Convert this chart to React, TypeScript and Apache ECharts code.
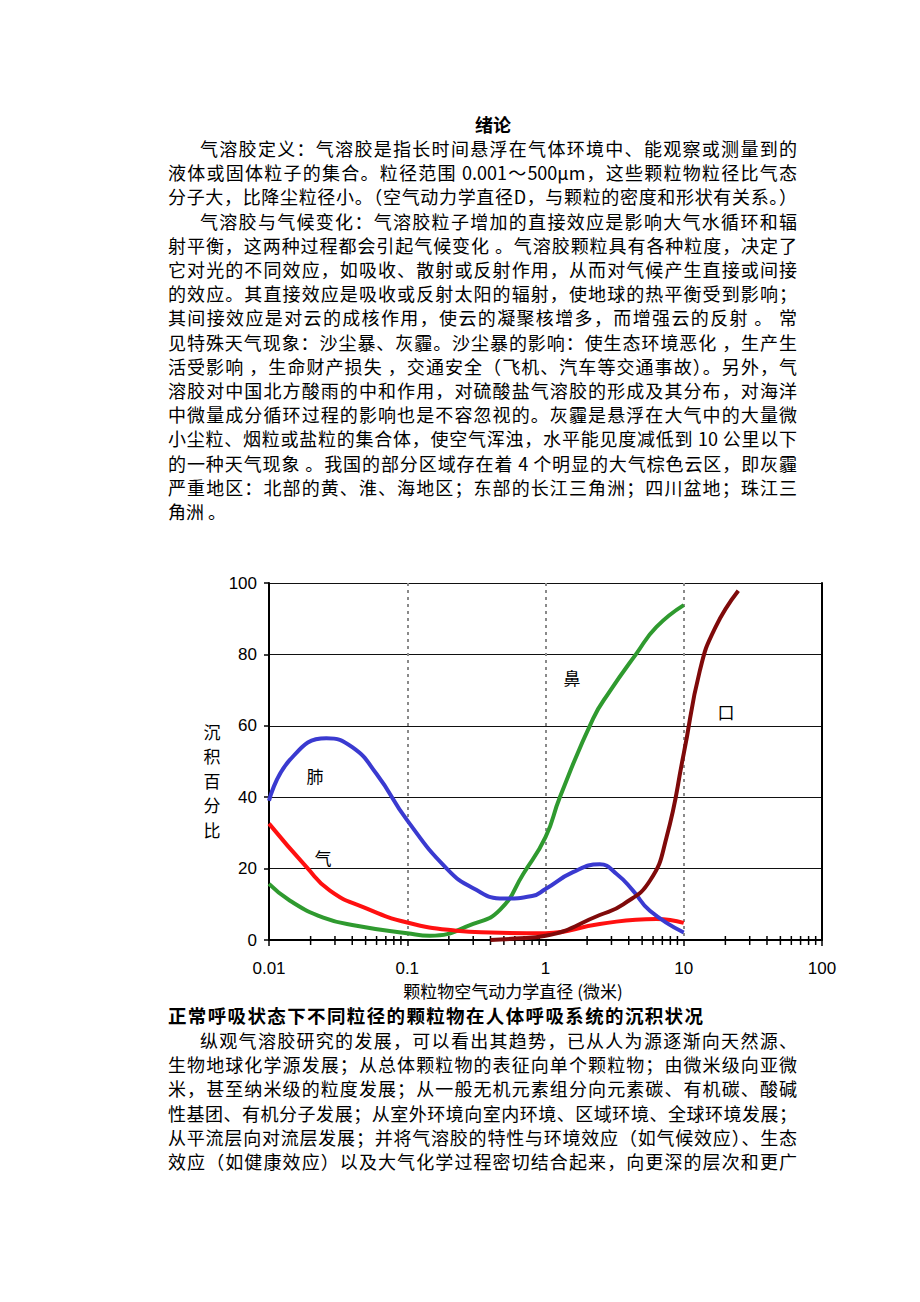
import React, { useEffect, useRef } from "react";
import * as echarts from "echarts";

// ---------- document text ----------
const titleText = "绪论";
const topLines = [
  "气溶胶定义：气溶胶是指长时间悬浮在气体环境中、能观察或测量到的",
  "液体或固体粒子的集合。粒径范围 0.001～500μm，这些颗粒物粒径比气态",
  "分子大，比降尘粒径小。（空气动力学直径D，与颗粒的密度和形状有关系。）",
  "气溶胶与气候变化：气溶胶粒子增加的直接效应是影响大气水循环和辐",
  "射平衡，这两种过程都会引起气候变化 。气溶胶颗粒具有各种粒度，决定了",
  "它对光的不同效应，如吸收、散射或反射作用，从而对气候产生直接或间接",
  "的效应。其直接效应是吸收或反射太阳的辐射，使地球的热平衡受到影响；",
  "其间接效应是对云的成核作用，使云的凝聚核增多，而增强云的反射 。 常",
  "见特殊天气现象：沙尘暴、灰霾。沙尘暴的影响：使生态环境恶化 ，生产生",
  "活受影响 ，生命财产损失 ，交通安全（飞机、汽车等交通事故）。另外，气",
  "溶胶对中国北方酸雨的中和作用，对硫酸盐气溶胶的形成及其分布，对海洋",
  "中微量成分循环过程的影响也是不容忽视的。灰霾是悬浮在大气中的大量微",
  "小尘粒、烟粒或盐粒的集合体，使空气浑浊，水平能见度减低到 10 公里以下",
  "的一种天气现象 。我国的部分区域存在着 4 个明显的大气棕色云区，即灰霾",
  "严重地区：北部的黄、淮、海地区；东部的长江三角洲；四川盆地；珠江三",
  "角洲 。",
];
const topIndented = [0, 3];
const captionText = "正常呼吸状态下不同粒径的颗粒物在人体呼吸系统的沉积状况";
const bottomLines = [
  "纵观气溶胶研究的发展，可以看出其趋势，已从人为源逐渐向天然源、",
  "生物地球化学源发展；从总体颗粒物的表征向单个颗粒物；由微米级向亚微",
  "米，甚至纳米级的粒度发展；从一般无机元素组分向元素碳、有机碳、酸碱",
  "性基团、有机分子发展；从室外环境向室内环境、区域环境、全球环境发展；",
  "从平流层向对流层发展；并将气溶胶的特性与环境效应（如气候效应）、生态",
  "效应（如健康效应）以及大气化学过程密切结合起来，向更深的层次和更广",
];
const bottomIndented = [0];

// ---------- chart data ----------
const xTickLabels = ["0.01", "0.1", "1", "10", "100"];
const yTickLabels = ["0", "20", "40", "60", "80", "100"];
const minorTicks = [
  0.02, 0.03, 0.04, 0.05, 0.06, 0.07, 0.08, 0.09,
  0.2, 0.3, 0.4, 0.5, 0.6, 0.7, 0.8, 0.9,
  2, 3, 4, 5, 6, 7, 8, 9,
  20, 30, 40, 50, 60, 70, 80, 90,
];
const lungData = [
  [0.01, 39], [0.0142, 50.5], [0.026, 56.5], [0.04, 54], [0.06, 46.5],
  [0.1, 33.5], [0.193, 20], [0.3, 14.5], [0.5, 11.6],
  [0.8, 12.3], [1, 14.3], [1.58, 19], [2.47, 21.2], [3.27, 18.5], [4.28, 13.9],
  [5.69, 8.2], [10, 2.1],
];
const tracheaData = [
  [0.01, 32.6], [0.0187, 20.4], [0.0276, 13.8], [0.048, 9.2], [0.1, 4.9],
  [0.227, 2.6], [0.4, 2.1], [1, 1.9], [2.47, 4.5], [6.35, 5.9], [10, 4.8],
];
const noseData = [
  [0.01, 15.7], [0.0142, 11], [0.0247, 6.3], [0.043, 4], [0.1, 1.9],
  [0.146, 1.2], [0.3, 4.5], [0.47, 8.5], [0.69, 18.5], [1, 28.8],
  [1.27, 40], [2.21, 62], [2.9, 69.5], [4.56, 80.3], [6.35, 87.7], [10, 93.8],
];
const mouthData = [
  [0.4, 0], [0.6, 0.4], [1, 1.2], [2.47, 7], [3.65, 10], [5.69, 16.6],
  [7.51, 28.8], [10, 52.2], [13.1, 75.6], [16.8, 87.3], [24.8, 97.8],
];
const seriesNames = ["肺", "气", "鼻", "口"];
const yTitle = "沉积百分比";
const xTitle = "颗粒物空气动力学直径 (微米)";

const CJK = '"Noto Sans CJK SC", sans-serif';
const LAT = '"Liberation Sans", Arial, sans-serif';
const LINE_H = 24.2;
const CHART_TOP = 540;

function TextLine(props: { text: string; cy: number; left: number; justify: boolean; bold?: boolean; width?: number; size?: number }) {
  const { text, cy, left, justify, bold, width, size } = props;
  return (
    <div
      style={{
        position: "absolute",
        left,
        top: cy - 12,
        width: width ?? 797 - left,
        height: 24,
        lineHeight: "24px",
        fontSize: size ?? 18,
        fontFamily: CJK,
        fontWeight: bold ? 700 : 400,
        color: "#000",
        textAlign: justify ? "justify" : "left",
        textAlignLast: justify ? "justify" : "left",
        whiteSpace: "nowrap",
        overflow: "visible",
      } as any}
    >
      {text}
    </div>
  );
}

export default function App() {
  const ref = useRef<HTMLDivElement>(null);

  useEffect(() => {
    if (!ref.current) return;
    const chart = echarts.init(ref.current, null, { renderer: "svg" });
    const gridLeft = 269;
    const gridTop = 583 - CHART_TOP;
    const gridW = 553;
    const gridH = 357;
    const lineSeries = (name: string, data: number[][], color: string) => ({
      name,
      type: "line",
      data,
      smooth: 0.5,
      showSymbol: false,
      symbol: "none",
      lineStyle: { color, width: 4 },
      z: 5,
    });
    chart.setOption({
      animation: false,
      backgroundColor: "transparent",
      grid: { left: gridLeft, top: gridTop, width: gridW, height: gridH },
      xAxis: {
        type: "log",
        logBase: 10,
        min: 0.01,
        max: 100,
        axisLine: { show: true, onZero: false, lineStyle: { color: "#000", width: 2 } },
        axisTick: { show: true, length: 6, lineStyle: { color: "#000", width: 1.5 } },
        axisLabel: {
          color: "#000",
          fontSize: 17,
          fontFamily: LAT,
          margin: 20,
          formatter: (v: number) => {
            const idx = Math.round(Math.log10(v)) + 2;
            return xTickLabels[idx] ?? String(v);
          },
        },
        splitLine: { show: true, lineStyle: { color: "#8a8a8a", width: 2, type: [3, 4] } },
      },
      yAxis: [
        {
          type: "value",
          min: 0,
          max: 100,
          interval: 20,
          axisLine: { show: true, lineStyle: { color: "#000", width: 2 } },
          axisTick: { show: true, length: 5, lineStyle: { color: "#000", width: 1.5 } },
          axisLabel: {
            color: "#000",
            fontSize: 17,
            fontFamily: LAT,
            margin: 12,
            formatter: (v: number) => yTickLabels[Math.round(v / 20)] ?? String(v),
          },
          splitLine: { show: true, lineStyle: { color: "#111", width: 1 } },
        },
        {
          type: "value",
          min: 0,
          max: 100,
          interval: 20,
          position: "right",
          axisLine: { show: true, lineStyle: { color: "#000", width: 2 } },
          axisTick: { show: false },
          axisLabel: { show: false },
          splitLine: { show: false },
        },
      ],
      series: [
        lineSeries(seriesNames[2], noseData, "#2f9a2f"),
        lineSeries(seriesNames[1], tracheaData, "#ff1010"),
        lineSeries(seriesNames[0], lungData, "#3a3ad0"),
        lineSeries(seriesNames[3], mouthData, "#7f0a0a"),
        {
          type: "custom",
          data: minorTicks.map((v) => [v, 0]),
          encode: { x: 0, y: 1 },
          silent: true,
          z: 3,
          renderItem: (params: any, api: any) => {
            const p = api.coord([api.value(0), 0]);
            return {
              type: "line",
              shape: { x1: p[0], y1: p[1] - 4, x2: p[0], y2: p[1] + 5 },
              style: { stroke: "#000", lineWidth: 1.5 },
            };
          },
        },
      ],
      graphic: [
        {
          type: "text",
          x: 212,
          y: 731 - CHART_TOP - 12,
          style: {
            text: yTitle.split("").join("\n"),
            font: `17px ${CJK}`,
            lineHeight: 24.5,
            fill: "#000",
            textAlign: "center",
            textVerticalAlign: "top",
          },
        },
        { type: "text", x: 315, y: 775 - CHART_TOP, style: { text: seriesNames[0], font: `17px ${CJK}`, fill: "#000", textAlign: "center", textVerticalAlign: "middle" } },
        { type: "text", x: 323, y: 857 - CHART_TOP, style: { text: seriesNames[1], font: `17px ${CJK}`, fill: "#000", textAlign: "center", textVerticalAlign: "middle" } },
        { type: "text", x: 572, y: 677 - CHART_TOP, style: { text: seriesNames[2], font: `17px ${CJK}`, fill: "#000", textAlign: "center", textVerticalAlign: "middle" } },
        { type: "text", x: 726, y: 711 - CHART_TOP, style: { text: seriesNames[3], font: `17px ${CJK}`, fill: "#000", textAlign: "center", textVerticalAlign: "middle" } },
        { type: "text", x: 513, y: 990 - CHART_TOP, style: { text: xTitle, font: `17px ${CJK}`, fill: "#000", textAlign: "center", textVerticalAlign: "middle" } },
      ],
    });
    return () => chart.dispose();
  }, []);

  return (
    <div style={{ position: "absolute", left: 0, top: 0, width: 920, height: 1302, background: "#fff", overflow: "hidden" }}>
      <div
        style={{
          position: "absolute",
          left: 443,
          top: 124 - 12,
          width: 100,
          height: 24,
          lineHeight: "24px",
          textAlign: "center",
          fontFamily: CJK,
          fontWeight: 700,
          fontSize: 18,
          color: "#000",
        }}
      >
        {titleText}
      </div>
      {topLines.map((t, i) => {
        const indented = topIndented.includes(i);
        return (
          <TextLine
            key={"t" + i}
            text={t}
            cy={148 + i * LINE_H}
            left={indented ? 200 : 168}
            justify={i !== topLines.length - 1}
          />
        );
      })}
      <div ref={ref} style={{ position: "absolute", left: 0, top: CHART_TOP, width: 920, height: 465 }} />
      <TextLine text={captionText} cy={1015} left={168} width={535} justify={true} bold={true} size={18.5} />
      {bottomLines.map((t, i) => {
        const indented = bottomIndented.includes(i);
        return (
          <TextLine
            key={"b" + i}
            text={t}
            cy={1040 + i * LINE_H}
            left={indented ? 200 : 168}
            justify={true}
          />
        );
      })}
    </div>
  );
}
